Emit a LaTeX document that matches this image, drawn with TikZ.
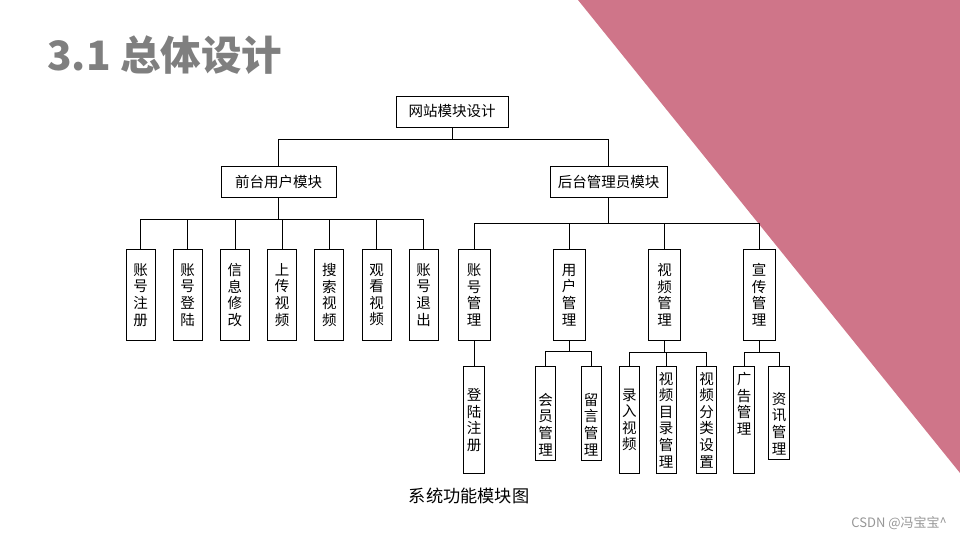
\documentclass[tikz,border=0pt]{standalone}
\usepackage{fontspec}
\newfontfamily\cjk{Noto Sans CJK SC}
\usepackage{xcolor}
\usepackage{tikz}
\usetikzlibrary{positioning}
\definecolor{slidepink}{RGB}{207,117,137}
\definecolor{titlegray}{RGB}{127,127,127}
\definecolor{markgray}{RGB}{150,150,150}

\begin{document}
\begin{tikzpicture}[
       x=1pt, y=-1pt,
       topbox/.style={
           draw,
           fill=white,
           line width=0.8pt,
           inner sep=0pt,
           minimum height=31pt,
           font=\cjk\fontsize{14.5}{16.6}\selectfont
       },
       colbox/.style={
           draw,
           fill=white,
           line width=0.8pt,
           inner sep=0pt,
           anchor=north,
           align=center,
           font=\cjk\fontsize{14.5}{16.6}\selectfont
       },
       edge/.style={line width=0.8pt}
   ]

   % Page and pink corner
   \useasboundingbox (0,0) rectangle (960,540);
   \fill[slidepink] (578,0) -- (960,0) -- (960,473) -- cycle;

   % Title
   \node[anchor=west, inner sep=0pt, text=titlegray,
         font=\cjk\bfseries\fontsize{40.5}{46}\selectfont] (title) at (47,55) {3.1 总体设计};

   % Root and second level
   \node[topbox, minimum width=112pt] (root) at (452,111.5) {网站模块设计};
   \node[topbox, minimum width=115pt] (front) at (278.5,182) {前台用户模块};
   \node[topbox, minimum width=117pt] (back) at (608.5,182) {后台管理员模块};

   \draw[edge] (root.south) -- ++(0,12) -| (front.north);
   \draw[edge] (root.south) -- ++(0,12) -| (back.north);

   % Front side modules
   \foreach \i/\txt in {1/{账\\号\\注\\册}, 2/{账\\号\\登\\陆}, 3/{信\\息\\修\\改},
                        4/{上\\传\\视\\频}, 5/{搜\\索\\视\\频}, 6/{观\\看\\视\\频},
                        7/{账\\号\\退\\出}} {
       \node[colbox, minimum width=29pt, minimum height=91pt]
           (f\i) at ({140.5+47.2*(\i-1)},249) {\txt};
       \draw[edge] (front.south) -- ++(0,21) -| (f\i.north);
   }

   % Back side modules
   \node[colbox, minimum width=32pt, minimum height=91pt] (b1) at (474,249) {账\\号\\管\\理};
   \node[colbox, minimum width=32pt, minimum height=91pt] (b2) at (569,249) {用\\户\\管\\理};
   \node[colbox, minimum width=32pt, minimum height=91pt] (b3) at (664.5,249) {视\\频\\管\\理};
   \node[colbox, minimum width=32pt, minimum height=91pt] (b4) at (759,249) {宣\\传\\管\\理};

   \foreach \i in {1,...,4} {
       \draw[edge] (back.south) -- ++(0,25) -| (b\i.north);
   }

   % Third level
   \node[colbox, minimum width=21pt, minimum height=107pt] (s1) at (474,366) {登\\陆\\注\\册};

   \node[colbox, minimum width=20pt, minimum height=94pt] (u1) at (545.5,366)
       {\parbox[c][84pt][b]{15pt}{\centering 会\\员\\管\\理}};
   \node[colbox, minimum width=20pt, minimum height=94pt] (u2) at (591,366)
       {\parbox[c][84pt][b]{15pt}{\centering 留\\言\\管\\理}};

   \node[colbox, minimum width=20pt, minimum height=107pt] (v1) at (629.3,366) {录\\入\\视\\频};
   \node[colbox, minimum width=20pt, minimum height=107pt] (v2) at (666,366) {视\\频\\目\\录\\管\\理};
   \node[colbox, minimum width=20pt, minimum height=107pt] (v3) at (706.7,366) {视\\频\\分\\类\\设\\置};

   \node[colbox, minimum width=21pt, minimum height=107pt] (a1) at (744,366)
       {\parbox[c][95pt][t]{15pt}{\centering 广\\告\\管\\理}};
   \node[colbox, minimum width=21pt, minimum height=93pt] (a2) at (779,366)
       {\parbox[c][83pt][b]{15pt}{\centering 资\\讯\\管\\理}};

   % Edges
   \draw[edge] (b1.south) -- (s1.north);
   \draw[edge] (b2.south) -- ++(0,11) -| (u1.north);
   \draw[edge] (b2.south) -- ++(0,11) -| (u2.north);
   \draw[edge] (b3.south) -- ++(0,12) -| (v1.north);
   \draw[edge] (b3.south) -- ++(0,12) -| (v2.north);
   \draw[edge] (b3.south) -- ++(0,12) -| (v3.north);
   \draw[edge] (b4.south) -- ++(0,12) -| (a1.north);
   \draw[edge] (b4.south) -- ++(0,12) -| (a2.north);

   % Caption and mark
   \node[font=\cjk\fontsize{17.2}{19}\selectfont] (caption) at (469,496) {系统功能模块图};
   \node[anchor=east, inner sep=0pt, text=markgray,
         font=\cjk\fontsize{13}{15}\selectfont] (mark) at (947,523) {CSDN @冯宝宝\^{}};

   \end{tikzpicture}
\end{document}
